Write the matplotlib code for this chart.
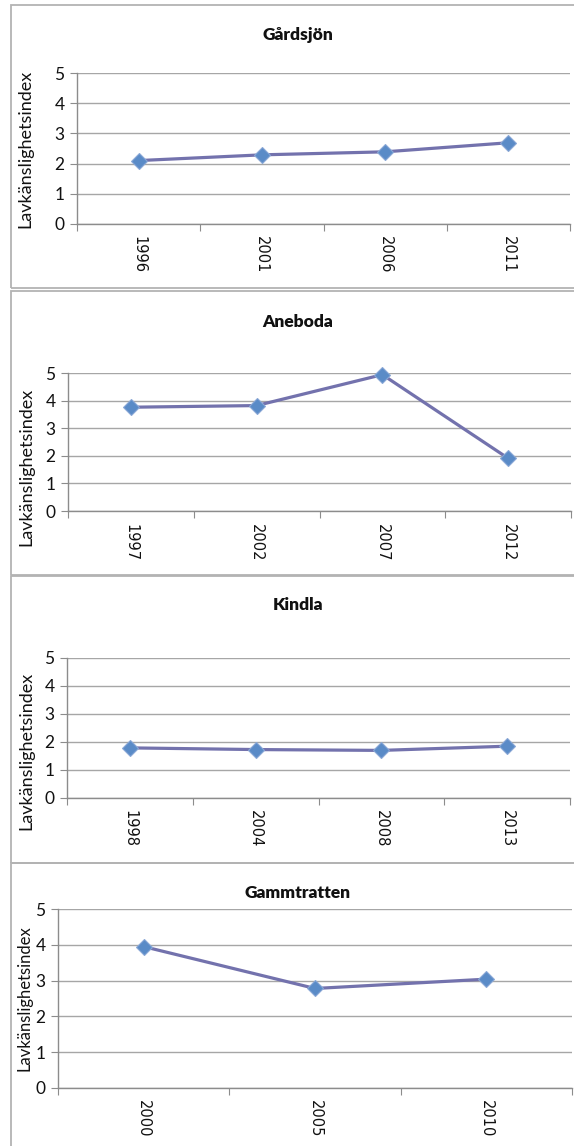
import matplotlib
matplotlib.use("Agg")
import matplotlib.pyplot as plt
from matplotlib.patches import Rectangle

plt.rcParams['font.family'] = ['Lato', 'DejaVu Sans']

# Lichen sensitivity index per site and survey year
titles = ["Gårdsjön", "Aneboda", "Kindla", "Gammtratten"]
years_gardsjon = ["1996", "2001", "2006", "2011"]
vals_gardsjon = [2.10, 2.29, 2.39, 2.69]
years_aneboda = ["1997", "2002", "2007", "2012"]
vals_aneboda = [3.76, 3.82, 4.94, 1.91]
years_kindla = ["1998", "2004", "2008", "2013"]
vals_kindla = [1.79, 1.73, 1.70, 1.85]
years_gammtratten = ["2000", "2005", "2010"]
vals_gammtratten = [3.95, 2.78, 3.04]
ylabel = "Lavkänslighetsindex"

W, H = 574, 1146
fig = plt.figure(figsize=(W / 100, H / 100), dpi=100)

LINE = "#7372AD"
MFACE = "#5A8BC7"
MEDGE = "#89A7D6"
GRID = "#A6A6A6"
AXIS = "#8C8C8C"
BOX = "#B3B3B3"

# panel frames: (top, bottom) in pixels
frames = [(5, 288), (291, 575), (576, 863), (863, 1160)]
for top, bot in frames:
    fig.patches.append(Rectangle((11 / W, 1 - bot / H), (W + 20) / W, (bot - top) / H,
                                 transform=fig.transFigure, fill=False,
                                 edgecolor=BOX, linewidth=1.3, zorder=0))

# plot areas: left, right, top, bottom (pixels), title y, ylabel x/y centre, ylabel size
layout = [
    (77, 570, 73, 224, 35, 25, 149, 13),
    (68, 571, 373, 511, 322, 26, 467, 13),
    (67, 570, 658, 798, 605, 26, 751, 13),
    (58, 572, 909, 1088, 893, 24, 998, 12),
]
series = [
    (years_gardsjon, vals_gardsjon),
    (years_aneboda, vals_aneboda),
    (years_kindla, vals_kindla),
    (years_gammtratten, vals_gammtratten),
]

for (l, r, t, b, ty, lx, ly, lfs), (yrs, vals), title in zip(layout, series, titles):
    ax = fig.add_axes([l / W, 1 - b / H, (r - l) / W, (b - t) / H])
    n = len(yrs)
    x = list(range(n))
    ax.plot(x, vals, color=LINE, linewidth=2.3, marker="D", markersize=8.5,
            markerfacecolor=MFACE, markeredgecolor=MEDGE, markeredgewidth=0.8,
            zorder=3, clip_on=False)
    ax.set_xlim(-0.5, n - 0.5)
    ax.set_ylim(0, 5)
    ax.set_yticks(range(6))
    ax.yaxis.grid(True, color=GRID, linewidth=1.0)
    ax.set_axisbelow(True)
    for s in ["top", "right"]:
        ax.spines[s].set_visible(False)
    ax.spines["left"].set_color(AXIS)
    ax.spines["bottom"].set_color(AXIS)
    ax.spines["left"].set_linewidth(1.0)
    ax.spines["bottom"].set_linewidth(1.0)
    # category ticks at bin boundaries, labels at centres
    ax.set_xticks([i - 0.5 for i in range(n + 1)])
    ax.set_xticklabels([])
    ax.set_xticks(x, minor=True)
    ax.set_xticklabels(yrs, minor=True, rotation=-90, fontsize=10.5,
                       family=['DejaVu Sans'], color="#111111")
    ax.tick_params(axis="x", which="major", length=5, color=AXIS, direction="out")
    ax.tick_params(axis="x", which="minor", length=0, pad=9)
    ax.tick_params(axis="y", length=5, color=AXIS, labelsize=12.5, pad=4,
                   labelcolor="#111111")
    fig.text(298 / W, 1 - ty / H, title, ha="center", va="center",
             fontsize=12.5, fontweight="heavy", color="#111111")
    fig.text(lx / W, 1 - ly / H, ylabel, ha="center", va="center",
             rotation=90, fontsize=lfs, color="#111111")

fig.savefig("out.png", dpi=100, facecolor="white")
